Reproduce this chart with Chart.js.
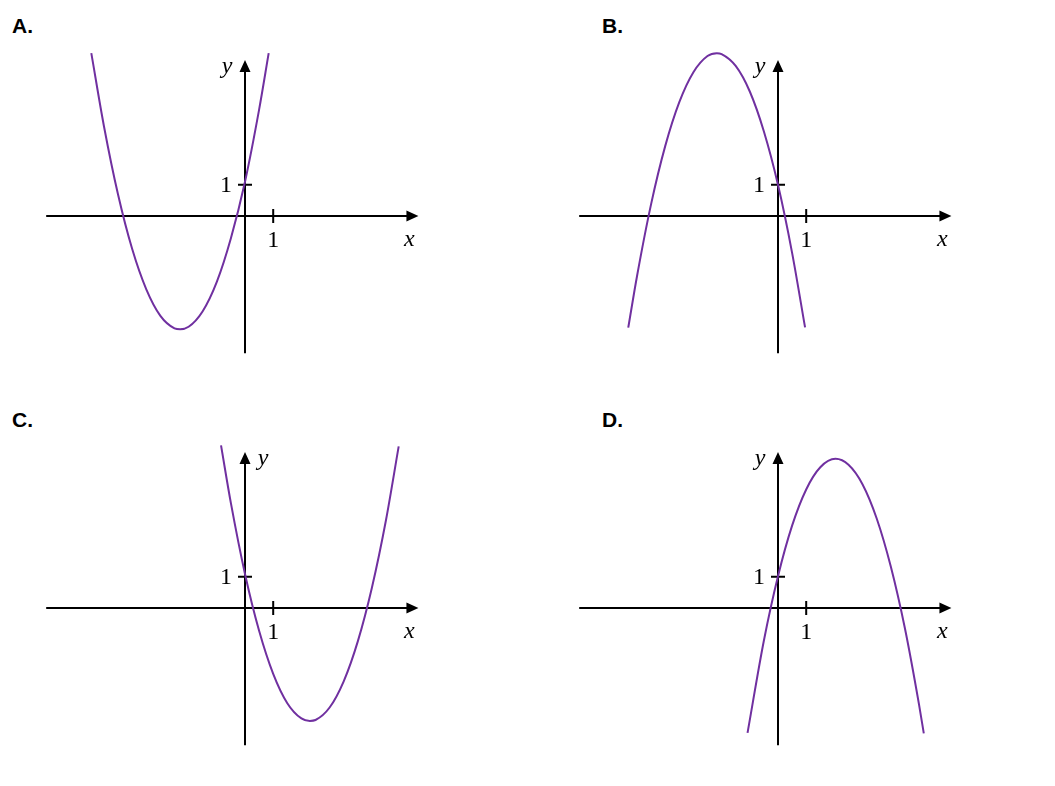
<!DOCTYPE html>
<html>
<head>
<meta charset="utf-8">
<script src="https://cdn.jsdelivr.net/npm/chart.js@4.4.1/dist/chart.umd.min.js"></script>
<style>
  html, body { margin:0; padding:0; background:#fff; }
  body { width:1055px; height:786px; position:relative; overflow:hidden; }
  .nome { position:absolute; font:bold 21px "Liberation Sans", Arial, sans-serif; line-height:21px; color:#000; }
  canvas { position:absolute; }
</style>
</head>
<body>
<div id="painel"></div>
<script>
/* DADOS */
const panelNames = ["A.", "B.", "C.", "D."];
const tickValues = [1];
const tickLabels = ["1"];
const xAxisEnds = [-7.05, 6.15];
const yAxisEnds = [-4.4, 5.0];

const xA = [-5.45, -5, -4.5, -4, -3.5, -3, -2.5, -2.3, -2, -1.5, -1, -0.5, 0, 0.5, 0.84];
const yA = [5.22, 2.87, 0.68, -1.06, -2.35, -3.2, -3.6, -3.63, -3.55, -3.05, -2.11, -0.71, 1.1, 3.41, 5.22];

const xB = [-5.31, -5, -4.5, -4, -3.5, -3, -2.5, -2.17, -2, -1.5, -1, -0.5, 0, 0.5, 0.96];
const yB = [-3.58, -1.93, 0.38, 2.24, 3.65, 4.61, 5.13, 5.22, 5.19, 4.81, 3.99, 2.71, 1.0, -1.18, -3.57];

const xC = [-0.85, -0.5, 0, 0.5, 1, 1.5, 2, 2.3, 2.5, 3, 3.5, 4, 4.5, 5, 5.45];
const yC = [5.21, 3.36, 1.09, -0.73, -2.11, -3.05, -3.54, -3.62, -3.59, -3.19, -2.35, -1.07, 0.65, 2.82, 5.18];

const xD = [-1.08, -0.5, 0, 0.5, 1, 1.5, 2.04, 2.5, 3, 3.5, 4, 4.5, 5, 5.17];
const yD = [-4.0, -1.04, 1.02, 2.64, 3.8, 4.51, 4.78, 4.59, 3.96, 2.87, 1.33, -0.65, -3.09, -4.02];

/* LAYOUT */
const unitX = 28.2, unitY = 31.2;
const canvasW = 410, canvasH = 325;
const origem = { x: 215, y: 176 };   // origem dentro do canvas
const roxo = "#7030a0";

/* EIXOS COM SETAS */
function pluginEixos(ladoY) {
  return {
    id: "eixos",
    beforeDatasetsDraw(chart) {
      const ctx = chart.ctx, xs = chart.scales.x, ys = chart.scales.y;
      const x0 = xs.getPixelForValue(0), y0 = ys.getPixelForValue(0);
      const xl = xs.getPixelForValue(xAxisEnds[0]), xr = xs.getPixelForValue(xAxisEnds[1]);
      const yb = ys.getPixelForValue(yAxisEnds[0]), yt = ys.getPixelForValue(yAxisEnds[1]);
      ctx.save();
      ctx.strokeStyle = "#000";
      ctx.fillStyle = "#000";
      ctx.lineWidth = 2;
      ctx.beginPath();
      ctx.moveTo(xl, y0); ctx.lineTo(xr - 10, y0);
      ctx.moveTo(x0, yb); ctx.lineTo(x0, yt + 10);
      ctx.stroke();

      ctx.beginPath();
      ctx.moveTo(xr, y0); ctx.lineTo(xr - 12, y0 - 5.5); ctx.lineTo(xr - 12, y0 + 5.5); ctx.closePath();
      ctx.moveTo(x0, yt); ctx.lineTo(x0 - 5.5, yt + 12); ctx.lineTo(x0 + 5.5, yt + 12); ctx.closePath();
      ctx.fill();

      // marcas e rótulos
      ctx.font = "24px 'Liberation Serif', serif";
      tickValues.forEach((v, i) => {
        const px = xs.getPixelForValue(v), py = ys.getPixelForValue(v);
        ctx.beginPath();
        ctx.moveTo(px, y0 - 7); ctx.lineTo(px, y0 + 7);
        ctx.moveTo(x0 - 7, py); ctx.lineTo(x0 + 7, py);
        ctx.stroke();
        ctx.textAlign = "center"; ctx.textBaseline = "alphabetic";
        ctx.fillText(tickLabels[i], px, y0 + 31);
        ctx.textAlign = "right"; ctx.textBaseline = "middle";
        ctx.fillText(tickLabels[i], x0 - 13, py + 1);
      });

      ctx.font = "italic 24px 'Liberation Serif', serif";
      ctx.textAlign = "center"; ctx.textBaseline = "alphabetic";
      ctx.fillText("x", xr - 9, y0 + 30);
      ctx.fillText("y", x0 + ladoY * 18, yt + 13);
      ctx.restore();
    }
  };
}

/* FUNÇÃO */
function criarPainel(i, left, top, xs, ys, ladoY, nomeX, nomeY) {
  const painel = document.getElementById("painel");
  const nome = document.createElement("div");
  nome.className = "nome";
  nome.style.left = nomeX + "px";
  nome.style.top = nomeY + "px";
  nome.textContent = panelNames[i];
  painel.appendChild(nome);

  const cv = document.createElement("canvas");
  cv.width = canvasW; cv.height = canvasH;
  cv.style.left = (left + 30) + "px";
  cv.style.top = (top + 40) + "px";
  painel.appendChild(cv);

  new Chart(cv, {
    type: "line",
    data: {
      datasets: [{
        data: xs.map((x, k) => ({ x: x, y: ys[k] })),
        borderColor: roxo,
        borderWidth: 2,
        pointRadius: 0,
        cubicInterpolationMode: "monotone",
        fill: false
      }]
    },
    options: {
      responsive: false,
      animation: false,
      layout: { padding: 0 },
      plugins: { legend: { display: false }, tooltip: { enabled: false } },
      scales: {
        x: { type: "linear", display: false, min: -origem.x / unitX, max: (canvasW - origem.x) / unitX },
        y: { type: "linear", display: false, min: -(canvasH - origem.y) / unitY, max: origem.y / unitY }
      }
    },
    plugins: [pluginEixos(ladoY)]
  });
}

/* GRÁFICOS */
criarPainel(0, 0, 0, xA, yA, -1, 12, 15);
criarPainel(1, 533, 0, xB, yB, -1, 602, 15);
criarPainel(2, 0, 392, xC, yC, 1, 12, 409);
criarPainel(3, 533, 392, xD, yD, -1, 602, 409);
</script>
</body>
</html>
